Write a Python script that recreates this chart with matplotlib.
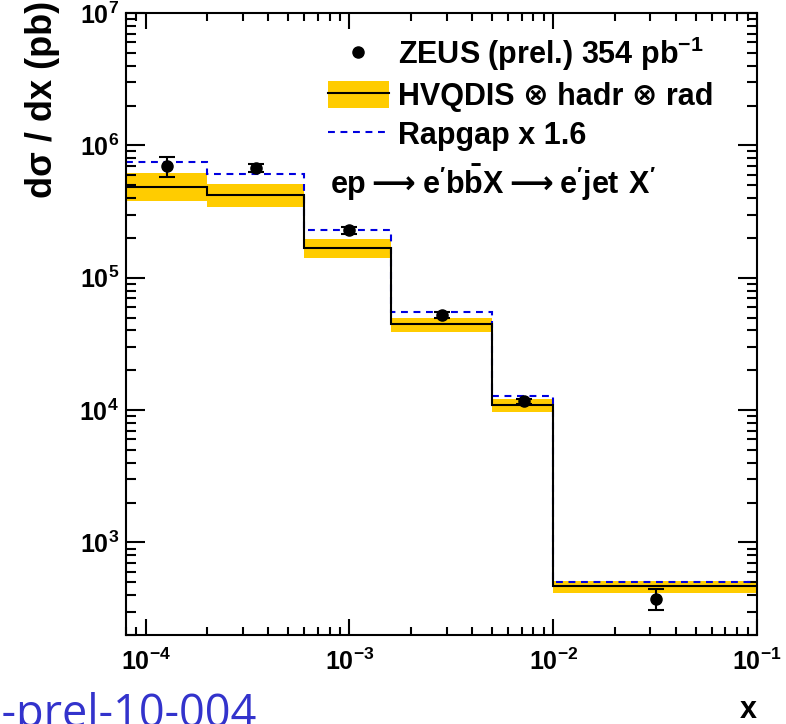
import matplotlib
matplotlib.use('Agg')
import matplotlib.pyplot as plt
from matplotlib.lines import Line2D
from matplotlib.patches import Patch

plt.rcParams['font.family'] = ['Liberation Sans', 'DejaVu Sans']
plt.rcParams['font.weight'] = 'bold'
plt.rcParams['axes.labelweight'] = 'bold'
plt.rcParams['mathtext.fontset'] = 'dejavusans'
plt.rcParams['mathtext.default'] = 'regular'
plt.rcParams['axes.unicode_minus'] = False

# bin edges in x
edges = [8e-5, 2e-4, 6e-4, 1.6e-3, 5e-3, 1e-2, 1e-1]

# ZEUS data points
x_data = [1.27e-4, 3.47e-4, 9.9e-4, 2.85e-3, 7.16e-3, 3.2e-2]
y_data = [7.0e5, 6.75e5, 2.28e5, 5.26e4, 1.17e4, 376]
y_lo = [5.8e5, 6.3e5, 2.15e5, 5.0e4, 1.12e4, 307]
y_hi = [8.2e5, 7.2e5, 2.4e5, 5.5e4, 1.22e4, 447]

# HVQDIS x hadr x rad, with uncertainty band
hvq = [4.89e5, 4.23e5, 1.68e5, 4.5e4, 1.09e4, 468]
hvq_lo = [3.81e5, 3.42e5, 1.41e5, 3.86e4, 9.6e3, 412]
hvq_hi = [6.2e5, 5.09e5, 1.96e5, 4.96e4, 1.21e4, 516]

# Rapgap x 1.6
rapgap = [7.46e5, 6.12e5, 2.28e5, 5.53e4, 1.28e4, 501]

yellow = '#ffcc00'
blue = '#0000e0'
dash = (0, (3.3, 2.7))

fig = plt.figure(figsize=(7.86, 7.24), dpi=100)
ax = fig.add_axes([0.1603, 0.1229, 0.8028, 0.8591])

ax.stairs(hvq_hi, edges, baseline=hvq_lo, fill=True, color=yellow, lw=0, zorder=1)
ax.stairs(rapgap, edges, baseline=None, color=blue, ls=dash, lw=1.5, zorder=2)
ax.stairs(hvq, edges, baseline=None, color='k', lw=1.5, zorder=3)
yerr = [[y - l for y, l in zip(y_data, y_lo)], [h - y for y, h in zip(y_data, y_hi)]]
ax.errorbar(x_data, y_data, yerr=yerr, fmt='o', color='k', ms=8,
            capsize=6, elinewidth=1.5, capthick=1.5, zorder=4)

ax.set_xscale('log')
ax.set_yscale('log')
ax.set_xlim(8e-5, 1e-1)
ax.set_ylim(2e2, 1e7)

for s in ax.spines.values():
    s.set_linewidth(1.5)
ax.tick_params(which='both', direction='in', top=True, right=True, width=1.5,
               labelsize=18)
ax.tick_params(axis='x', which='major', length=11.5, pad=10)
ax.tick_params(axis='x', which='minor', length=6)
ax.tick_params(axis='y', which='major', length=14, pad=5)
ax.tick_params(axis='y', which='minor', length=7)

ax.set_ylabel('d\u03c3 / dx (pb)', loc='top', fontsize=26)
ax.yaxis.set_label_coords(-0.105, 1.02)
ax.set_xlabel('x', loc='right', fontsize=22, labelpad=14)

h_pt = Line2D([], [], ls='none', marker='o', color='k', ms=8)
h_band = (Patch(facecolor=yellow, lw=0), Line2D([], [], color='k', lw=1.5))
h_rap = Line2D([], [], color=blue, ls=dash, lw=1.5)
ax.legend([h_pt, h_band, h_rap],
          ['ZEUS (prel.) 354 pb$^{-1}$', 'HVQDIS \u2297 hadr \u2297 rad', 'Rapgap x 1.6'],
          loc='upper left', bbox_to_anchor=(0.32, 0.965), frameon=False,
          fontsize=22, handlelength=2.0, handletextpad=0.3, labelspacing=0.25,
          handleheight=1.0, borderpad=0, borderaxespad=0)

ax.text(0.323, 0.727,
        r"$ep\mathrm{\longrightarrow}e^{\prime}b\bar{b}X\mathrm{\longrightarrow}e^{\prime}jet\ X^{\prime}$",
        transform=ax.transAxes, va='center', ha='left', fontsize=22)

fig.text(257 / 786, -3 / 724, 'ZEUS-prel-10-004', ha='right', va='baseline',
         fontsize=32.5, family='Open Sans', weight='normal', color='#3333cc')

fig.savefig('out.png', dpi=100)
